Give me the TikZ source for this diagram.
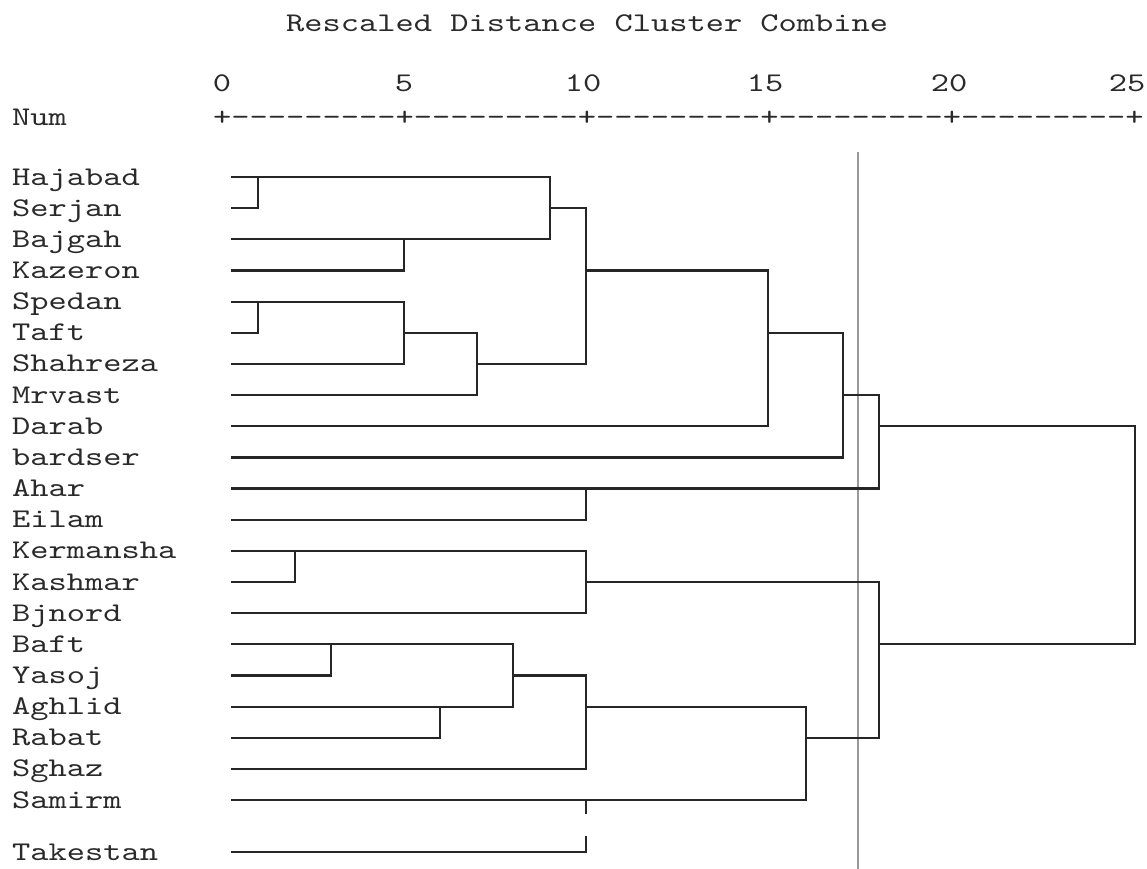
\documentclass[tikz,border=0pt]{standalone}
\usepackage{fontspec}
\newfontfamily\courfont{lmmono10-regular.otf}[FakeStretch=1.287]
\definecolor{txtc}{HTML}{2A2A2A}
\definecolor{linec}{HTML}{262626}
\definecolor{cutc}{HTML}{999999}
\begin{document}
\begin{tikzpicture}[x=1pt,y=-1pt,
  txt/.style={inner sep=0pt,font=\courfont\fontsize{27}{30}\selectfont,text=txtc},
  lbl/.style={txt,anchor=base west},
  num/.style={txt,anchor=base},
  link/.style={draw=linec,line width=2.2pt,line cap=rect,line join=miter},
  cut/.style={draw=cutc,line width=2.2pt}]
\useasboundingbox (0,0) rectangle (1147,868);
% title and axis
\node[lbl] (title) at (286,31.5) {Rescaled Distance Cluster Combine};
\node[num] (t0) at (222,91) {0};
\node[num] (t5) at (404,91) {5};
\node[num] (t10) at (583,91) {10};
\node[num] (t15) at (765,91) {15};
\node[num] (t20) at (949,91) {20};
\node[num] (t25) at (1127,91) {25};
\node[lbl] (numlbl) at (12,125) {Num};
\node[lbl] (axis) at (212.9,125) {+---------+---------+---------+---------+---------+};
% cut line
\coordinate (cutT) at (858,152);
\coordinate (cutB) at (858,870);
\draw[cut] (cutT) -- (cutB);
% labels and leaf starts
\foreach \name/\yy [count=\i] in {Hajabad/177,Serjan/208.2,Bajgah/239.3,Kazeron/270.5,Spedan/301.6,Taft/332.8,Shahreza/363.9,Mrvast/395.1,Darab/426.2,bardser/457.4,Ahar/488.5,Eilam/519.7,Kermansha/550.8,Kashmar/582,Bjnord/613.1,Baft/644.3,Yasoj/675.4,Aghlid/706.6,Rabat/737.7,Sghaz/768.9,Samirm/800,Takestan/852}{
  \node[lbl] (n\i) at (12,\yy+8) {\name};
  \coordinate (s\i) at (232,\yy);
}
% joins
\coordinate (jHS-t) at (258,177);
\coordinate (jBK-t) at (404,239.3);
\coordinate (jA-t) at (550,177);
\coordinate (jA-o) at (550,208.2);
\coordinate (jA-b) at (550,239.3);
\coordinate (jST-t) at (258,301.6);
\coordinate (jSTS-t) at (404,301.6);
\coordinate (jSTS-o) at (404,332.8);
\coordinate (jSTS-b) at (404,363.9);
\coordinate (jM-t) at (477,332.8);
\coordinate (jM-o) at (477,363.9);
\coordinate (jM-b) at (477,395.1);
\coordinate (jB-t) at (586,208.2);
\coordinate (jB-o) at (586,270.5);
\coordinate (jB-b) at (586,363.9);
\coordinate (jD-t) at (768,270.5);
\coordinate (jD-o) at (768,332.8);
\coordinate (jD-b) at (768,426.2);
\coordinate (jBa-t) at (843,332.8);
\coordinate (jBa-o) at (843,395.1);
\coordinate (jBa-b) at (843,457.4);
\coordinate (jAh-t) at (879,395.1);
\coordinate (jAh-o) at (879,426.2);
\coordinate (jAh-b) at (879,488.5);
\coordinate (root-t) at (1135,426.2);
\coordinate (root-b) at (1135,644.3);
\coordinate (jAE-t) at (586,488.5);
\coordinate (jKK-t) at (295,550.8);
\coordinate (jKB-t) at (586,550.8);
\coordinate (jKB-o) at (586,582);
\coordinate (jKB-b) at (586,613.1);
\coordinate (jK2-t) at (879,582);
\coordinate (jK2-o) at (879,644.3);
\coordinate (jK2-b) at (879,737.7);
\coordinate (jBY-t) at (331,644.3);
\coordinate (jAR-t) at (440,706.6);
\coordinate (jBA-t) at (513,644.3);
\coordinate (jBA-o) at (513,675.4);
\coordinate (jBA-b) at (513,706.6);
\coordinate (jS-t) at (586,675.4);
\coordinate (jS-o) at (586,706.6);
\coordinate (jS-b) at (586,768.9);
\coordinate (jSa-t) at (806,706.6);
\coordinate (jSa-o) at (806,737.7);
\coordinate (jSa-b) at (806,800);
\coordinate (tickA) at (586,800);
\coordinate (tickB) at (586,813);
\coordinate (tickC) at (586,837);
% connectors
\draw[link] (s1) -- (jA-t) -- (jA-b);
\draw[link] (s2) -| (jHS-t);
\draw[link] (s3) -- (jA-b);
\draw[link] (s4) -| (jBK-t);
\draw[link] (jA-o) -- (jB-t) -- (jB-b);
\draw[link] (s5) -- (jSTS-t) -- (jSTS-b);
\draw[link] (s6) -| (jST-t);
\draw[link] (s7) -- (jSTS-b);
\draw[link] (jSTS-o) -- (jM-t) -- (jM-b);
\draw[link] (s8) -- (jM-b);
\draw[link] (jM-o) -- (jB-b);
\draw[link] (jB-o) -- (jD-t) -- (jD-b);
\draw[link] (s9) -- (jD-b);
\draw[link] (jD-o) -- (jBa-t) -- (jBa-b);
\draw[link] (s10) -- (jBa-b);
\draw[link] (jBa-o) -- (jAh-t) -- (jAh-b);
\draw[link] (s11) -- (jAh-b);
\draw[link] (jAh-o) -- (root-t) -- (root-b);
\draw[link] (s12) -| (jAE-t);
\draw[link] (s13) -- (jKB-t) -- (jKB-b);
\draw[link] (s14) -| (jKK-t);
\draw[link] (s15) -- (jKB-b);
\draw[link] (jKB-o) -- (jK2-t) -- (jK2-b);
\draw[link] (s16) -- (jBA-t) -- (jBA-b);
\draw[link] (s17) -| (jBY-t);
\draw[link] (s18) -- (jBA-b);
\draw[link] (s19) -| (jAR-t);
\draw[link] (jBA-o) -- (jS-t) -- (jS-b);
\draw[link] (s20) -- (jS-b);
\draw[link] (jS-o) -- (jSa-t) -- (jSa-b);
\draw[link] (s21) -- (jSa-b);
\draw[link] (jSa-o) -- (jK2-b);
\draw[link] (jK2-o) -- (root-b);
\draw[link] (tickA) -- (tickB);
\draw[link] (s22) -| (tickC);
\end{tikzpicture}
\end{document}
